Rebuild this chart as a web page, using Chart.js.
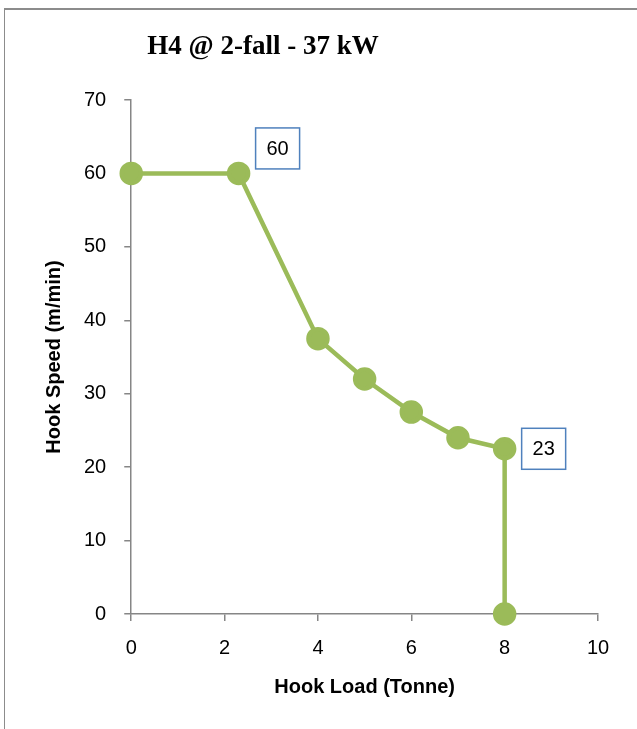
<!DOCTYPE html>
<html>
<head>
<meta charset="utf-8">
<script src="https://cdn.jsdelivr.net/npm/chart.js@4"></script>
<style>
  html, body { margin: 0; padding: 0; background: #fff; overflow: hidden; }
  #frame {
    position: absolute; left: 4px; top: 8px; width: 660px; height: 760px;
    border-left: 1px solid #8c8c8c; border-top: 2px solid #8c8c8c;
  }
  #wrap { position: absolute; left: 0; top: 0; width: 637px; height: 729px; }
</style>
</head>
<body>
<div id="frame"></div>
<div id="wrap"><canvas id="hookChart" width="637" height="729"></canvas></div>
<script>
const hookLoad = [0, 2.3, 4, 5, 6, 7, 8, 8];
const hookSpeed = [60, 60, 37.5, 32, 27.5, 24, 22.5, 0];
const boxLabels = ['', '60', '', '', '', '', '23', ''];
const xTicks = [0, 2, 4, 6, 8, 10];
const chartTitle = 'H4 @ 2-fall - 37 kW';

const lineGreen = '#9bbb59';
const axisGrey = '#868686';
const sansFont = "'Liberation Sans', Arial, sans-serif";

// title sits left of centre in the original (chart is cropped on the right)
const titleText = {
    id: 'titleText',
    afterDraw(chart) {
        const ctx = chart.ctx;
        ctx.save();
        ctx.font = "bold 27px 'Liberation Serif', serif";
        ctx.fillStyle = '#000';
        ctx.textAlign = 'center';
        ctx.textBaseline = 'middle';
        ctx.fillText(chartTitle, 263, 47);
        ctx.restore();
    }
};

const labelBoxes = {
    id: 'labelBoxes',
    afterDatasetsDraw(chart) {
        const ctx = chart.ctx;
        const meta = chart.getDatasetMeta(0);
        ctx.save();
        ctx.font = '20px ' + sansFont;
        ctx.textAlign = 'center';
        ctx.textBaseline = 'middle';
        meta.data.forEach((pt, i) => {
            const txt = boxLabels[i];
            if (!txt) return;
            const cx = pt.x + 39;
            const cy = i === 1 ? pt.y - 25 : pt.y;
            const w = 44, h = 41;
            ctx.fillStyle = '#fff';
            ctx.fillRect(cx - w / 2, cy - h / 2, w, h);
            ctx.strokeStyle = '#4f81bd';
            ctx.lineWidth = 1.5;
            ctx.strokeRect(cx - w / 2, cy - h / 2, w, h);
            ctx.fillStyle = '#000';
            ctx.fillText(txt, cx, cy + 1);
        });
        ctx.restore();
    }
};

const points = hookLoad.map((x, i) => ({ x: x, y: hookSpeed[i] }));

new Chart(document.getElementById('hookChart').getContext('2d'), {
    type: 'scatter',
    data: {
        datasets: [{
            data: points,
            showLine: true,
            borderColor: lineGreen,
            borderWidth: 4.5,
            backgroundColor: lineGreen,
            pointBackgroundColor: lineGreen,
            pointBorderColor: lineGreen,
            pointRadius: 9.5,
            pointHoverRadius: 9.5,
            clip: false
        }]
    },
    options: {
        responsive: false,
        animation: false,
        layout: { padding: { left: 38, right: 39, top: 100, bottom: 30 } },
        plugins: {
            legend: { display: false },
            tooltip: { enabled: false },
            title: { display: false }
        },
        scales: {
            x: {
                type: 'linear',
                min: 0,
                max: 10,
                afterBuildTicks(axis) { axis.ticks = xTicks.map(v => ({ value: v })); },
                grid: { display: true, drawOnChartArea: false, drawTicks: true, tickLength: 7, color: axisGrey, lineWidth: 1.5 },
                border: { color: axisGrey, width: 1.5 },
                ticks: { color: '#000', font: { family: sansFont, size: 20 }, padding: 15 },
                title: {
                    display: true,
                    text: 'Hook Load (Tonne)',
                    color: '#000',
                    font: { family: sansFont, size: 20, weight: 'bold' },
                    padding: { top: 0, bottom: 0 }
                }
            },
            y: {
                min: 0,
                max: 70,
                ticks: { stepSize: 10, color: '#000', font: { family: sansFont, size: 20 }, padding: 18 },
                grid: { display: true, drawOnChartArea: false, drawTicks: true, tickLength: 7, color: axisGrey, lineWidth: 1.5 },
                border: { color: axisGrey, width: 1.5 },
                title: {
                    display: true,
                    text: 'Hook Speed (m/min)',
                    color: '#000',
                    font: { family: sansFont, size: 20, weight: 'bold' },
                    padding: { top: 4, bottom: 0 }
                }
            }
        }
    },
    plugins: [labelBoxes, titleText]
});
</script>
</body>
</html>
